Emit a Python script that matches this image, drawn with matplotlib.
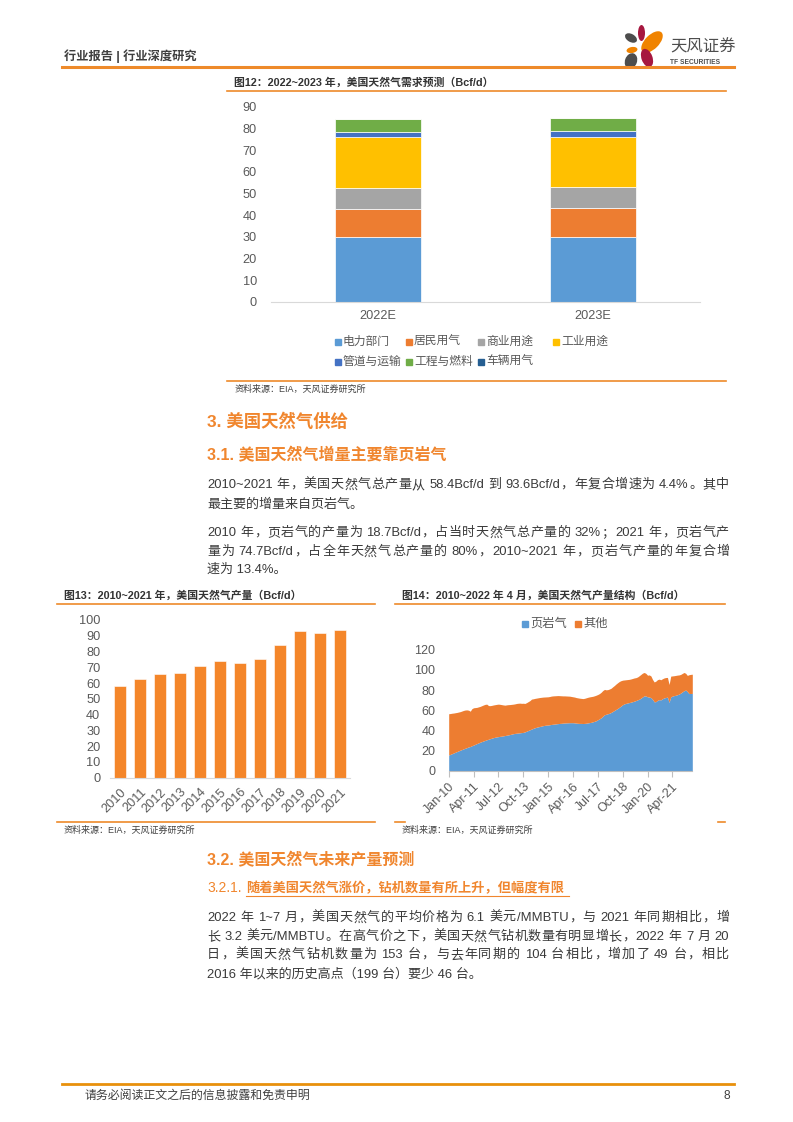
import numpy as np
import matplotlib
matplotlib.use('Agg')
import matplotlib.pyplot as plt
from matplotlib.lines import Line2D
from matplotlib.patches import Rectangle, Ellipse

plt.rcParams['font.family'] = ['Liberation Sans', 'Noto Sans CJK SC', 'DejaVu Sans']

# ---- 图12 数据：美国天然气需求预测 (Bcf/d)
demand_cats = ['2022E', '2023E']
demand_names = ['电力部门', '居民用气', '商业用途', '工业用途', '管道与运输', '工程与燃料', '车辆用气']
power = [29.7, 30.0]
residential = [13.2, 13.4]
commercial = [9.7, 9.4]
industrial = [23.2, 23.4]
pipeline = [2.7, 2.7]
lease_fuel = [5.7, 5.7]
vehicle = [0.1, 0.1]
demand_colors = ['#5B9BD5', '#ED7D31', '#A5A5A5', '#FFC000', '#4472C4', '#70AD47', '#255E91']

# ---- 图13 数据：美国天然气产量 (Bcf/d)
prod_years = ['2010', '2011', '2012', '2013', '2014', '2015',
              '2016', '2017', '2018', '2019', '2020', '2021']
prod_values = [58.4, 62.6, 65.5, 66.2, 70.8, 74.2, 72.7, 75.1, 84.4, 93.0, 91.8, 93.6]

# ---- 图14 数据：2010.01~2022.04 月度产量结构 (Bcf/d)
shale = [
    15.5, 16.2, 16.9, 17.6, 18.3, 19.0, 19.7, 20.4, 21.0, 21.7, 22.3, 22.9,   # 2010
    23.6, 24.0, 24.8, 25.4, 26.2, 26.9, 27.6, 28.3, 28.9, 29.5, 30.1, 30.7,   # 2011
    31.2, 31.8, 32.3, 32.8, 33.2, 33.5, 33.8, 34.1, 34.3, 34.6, 34.9, 35.2,   # 2012
    35.5, 35.9, 36.3, 36.7, 37.0, 37.2, 37.4, 37.6, 37.8, 38.0, 38.5, 39.2,   # 2013
    39.9, 40.6, 41.3, 42.0, 42.6, 43.1, 43.5, 43.9, 44.3, 44.7, 45.0, 45.2,   # 2014
    45.3, 45.6, 45.9, 46.1, 46.3, 46.5, 46.7, 46.9, 47.0, 47.2, 47.3, 47.4,   # 2015
    47.5, 47.6, 47.6, 47.6, 47.4, 47.2, 47.0, 46.9, 46.9, 46.8, 46.9, 47.1,   # 2016
    47.4, 47.7, 48.0, 48.5, 49.0, 49.6, 50.6, 51.5, 52.5, 54.0, 55.5, 56.0,   # 2017
    56.5, 57.0, 57.8, 58.8, 59.8, 60.8, 61.8, 63.0, 64.2, 65.5, 66.3, 66.8,   # 2018
    67.2, 67.6, 68.0, 68.5, 69.0, 69.6, 70.3, 71.0, 72.0, 73.2, 74.3, 74.0,   # 2019
    73.3, 73.0, 72.5, 70.8, 68.3, 68.5, 69.8, 70.5, 70.2, 71.4, 72.2, 72.6,   # 2020
    73.0, 67.7, 73.3, 74.0, 74.5, 74.8, 75.4, 76.0, 77.0, 78.2, 79.3, 80.0,   # 2021
    78.5, 76.5, 76.6, 76.6,                                                   # 2022
]
total = [
    56.5, 56.7, 57.0, 57.2, 57.5, 57.8, 58.2, 58.6, 59.2, 59.8, 60.2, 60.3,   # 2010
    60.0, 59.0, 61.5, 62.4, 62.6, 62.8, 63.3, 63.8, 64.5, 65.2, 65.8, 66.0,   # 2011
    64.6, 64.5, 64.8, 65.2, 65.5, 65.8, 66.0, 65.8, 65.5, 65.2, 65.0, 65.3,   # 2012
    65.5, 65.6, 65.8, 66.0, 66.3, 66.7, 66.9, 67.0, 66.8, 66.9, 66.7, 67.5,   # 2013
    68.5, 69.5, 71.0, 71.3, 71.7, 72.0, 72.3, 72.6, 72.8, 73.0, 73.1, 73.2,   # 2014
    73.3, 73.6, 74.0, 74.2, 74.3, 74.4, 74.5, 74.4, 74.3, 74.2, 74.2, 74.1,   # 2015
    74.0, 73.9, 73.6, 73.3, 73.0, 72.5, 72.2, 71.9, 71.7, 71.5, 71.8, 72.3,   # 2016
    72.8, 73.2, 73.5, 73.8, 74.3, 74.9, 75.6, 76.5, 77.8, 79.5, 80.6, 80.2,   # 2017
    80.4, 81.0, 81.8, 83.2, 84.5, 86.0, 87.3, 88.5, 89.3, 89.8, 90.0, 90.2,   # 2018
    90.4, 90.6, 91.0, 91.5, 92.0, 92.3, 93.0, 94.2, 95.5, 96.8, 97.4, 96.5,   # 2019
    94.7, 95.0, 94.0, 90.5, 88.0, 88.8, 90.3, 90.8, 90.2, 91.2, 92.0, 92.4,   # 2020
    92.5, 85.5, 93.8, 94.0, 94.2, 94.5, 94.8, 95.0, 95.5, 96.5, 97.4, 96.6,   # 2021
    94.5, 95.2, 95.5, 95.7,                                                   # 2022
]
month_labels = ['Jan-10', 'Apr-11', 'Jul-12', 'Oct-13', 'Jan-15',
                'Apr-16', 'Jul-17', 'Oct-18', 'Jan-20', 'Apr-21']
mix_names = ['页岩气', '其他']
mix_colors = ['#5B9BD5', '#ED7D31']

# ---- 页面
W, H = 793, 1122
fig = plt.figure(figsize=(W / 100, H / 100), dpi=100)
renderer = fig.canvas.get_renderer()
ORANGE = '#F0862E'
LINE = '#EE8A2A'
DARK = '#3A3A3A'
GREY = '#595959'


def txt(x, y, s, **kw):
    kw.setdefault('va', 'center')
    return fig.text(x / W, 1 - y / H, s, **kw)


def hline(x0, x1, y, color=LINE, lw=1.2):
    fig.add_artist(Line2D([x0 / W, x1 / W], [1 - y / H, 1 - y / H], color=color, lw=lw))


def square(x, y, color, size=6):
    fig.add_artist(Rectangle((x / W, 1 - (y + size / 2) / H), size / W, size / H,
                             color=color, transform=fig.transFigure))


def add_ax(x0, y0, x1, y1):
    return fig.add_axes([x0 / W, 1 - y1 / H, (x1 - x0) / W, (y1 - y0) / H])


def justify(x0, x1, y, s, **kw):
    # 两端对齐：汉字逐字、西文成段，空白处加宽
    toks = []
    run, space = '', False
    for ch in s:
        if ch == ' ':
            if run:
                toks.append((run, space))
                run = ''
                space = False
            space = True
        elif ord(ch) < 128:
            run += ch
        else:
            if run:
                toks.append((run, space))
                run = ''
                space = False
            toks.append((ch, space))
            space = False
    if run:
        toks.append((run, space))
    arts = [txt(0, y, t, **kw) for t, _ in toks]
    widths = [a.get_window_extent(renderer).width for a in arts]
    sp = kw.get('fontsize', 10) * 100 / 72 * 0.28
    nsp = sum(1 for _, b in toks if b)
    gap = (x1 - x0 - sum(widths) - nsp * sp) / (len(toks) - 1)
    cx = x0
    for a, w, (_, b) in zip(arts, widths, toks):
        if b:
            cx += sp
        a.set_position((cx / W, 1 - y / H))
        cx += w + gap


# 页眉
txt(64, 56, '行业报告 | 行业深度研究', fontsize=8.8, fontweight='bold', color='#3F3F3F')
hline(62, 734, 67, lw=2.2)
logo = add_ax(620, 20, 670, 72)
logo.set_xlim(620, 670)
logo.set_ylim(72, 20)
logo.axis('off')
for (cx, cy, w, h, ang, col) in [(641.5, 33, 7, 16, 0, '#A6173F'),
                                  (631, 38, 13, 8, 30, '#4D4D4D'),
                                  (652, 42, 27, 14, -45, '#F08300'),
                                  (632, 50, 11, 6, -10, '#F08300'),
                                  (647, 58, 11, 19, -20, '#A6173F'),
                                  (631, 61, 12, 16, 20, '#4D4D4D')]:
    logo.add_patch(Ellipse((cx, cy), w, h, angle=ang, color=col, lw=0))
txt(670, 47, '天风证券', fontsize=11.8, color='#4D4D4D')
txt(670, 62, 'TF SECURITIES', fontsize=4.8, fontweight='bold', color='#4D4D4D')

# 图12
txt(234, 83, '图12：2022~2023 年，美国天然气需求预测（Bcf/d）', fontsize=7.8, fontweight='bold', color='#333333')
hline(227, 726, 91)
ax1 = add_ax(270.7, 106.7, 700, 301.7)
xpos = np.arange(len(demand_cats))
bottom = np.zeros(len(demand_cats))
for vals, col in zip([power, residential, commercial, industrial, pipeline, lease_fuel, vehicle],
                     demand_colors):
    ax1.bar(xpos, vals, 0.4, bottom=bottom, color=col, edgecolor='white', lw=0.5)
    bottom += np.array(vals)
ax1.set_xlim(-0.5, 1.5)
ax1.set_ylim(0, 90)
ax1.set_yticks(range(0, 91, 10))
ax1.set_xticks(xpos)
ax1.set_xticklabels(demand_cats)
for s in ['top', 'right', 'left']:
    ax1.spines[s].set_visible(False)
ax1.spines['bottom'].set_color('#D9D9D9')
ax1.tick_params(length=0, labelsize=9.2, labelcolor=GREY)
ax1.tick_params(axis='y', pad=10)
ax1.tick_params(axis='x', pad=6)
leg_pos = [(335, 342), (406, 342), (478, 342), (553, 342), (335, 362), (406, 362), (478, 362)]
for (lx, ly), name, col in zip(leg_pos, demand_names, demand_colors):
    square(lx, ly, col)
    txt(lx + 8, ly, name, fontsize=8.5, color=GREY)
hline(227, 726, 381)
txt(235, 389, '资料来源：EIA，天风证券研究所', fontsize=6.5, color='#404040')

# 正文 3 / 3.1
txt(207, 421.5, '3. 美国天然气供给', fontsize=12.5, fontweight='bold', color=ORANGE)
txt(207, 455, '3.1. 美国天然气增量主要靠页岩气', fontsize=11.5, fontweight='bold', color=ORANGE)
body = dict(fontsize=9.4, color=DARK)
justify(207, 729, 485, '2010~2021 年，美国天然气总产量从 58.4Bcf/d 到 93.6Bcf/d，年复合增速为 4.4%。其中', **body)
txt(207, 505, '最主要的增量来自页岩气。', **body)
justify(207, 729, 533, '2010 年，页岩气的产量为 18.7Bcf/d，占当时天然气总产量的 32%；2021 年，页岩气产', **body)
justify(207, 729, 552, '量为 74.7Bcf/d，占全年天然气总产量的 80%，2010~2021 年，页岩气产量的年复合增', **body)
txt(207, 570, '速为 13.4%。', **body)

# 图13
txt(64, 596, '图13：2010~2021 年，美国天然气产量（Bcf/d）', fontsize=7.8, fontweight='bold', color='#333333')
hline(57, 375, 604)
ax2 = add_ax(110, 620, 350, 777.7)
ax2.bar(np.arange(len(prod_years)), prod_values, 0.6, color='#F4862A', edgecolor='white', lw=0.4)
ax2.set_xlim(-0.5, len(prod_years) - 0.5)
ax2.set_ylim(0, 100)
ax2.set_yticks(range(0, 101, 10))
ax2.set_xticks(np.arange(len(prod_years)))
ax2.set_xticklabels(prod_years, rotation=45, ha='right', va='top', rotation_mode='anchor')
for s in ['top', 'right', 'left']:
    ax2.spines[s].set_visible(False)
ax2.spines['bottom'].set_color('#D9D9D9')
ax2.tick_params(length=0, labelsize=9.2, labelcolor=GREY)
ax2.tick_params(axis='y', pad=7)
ax2.tick_params(axis='x', pad=6)
hline(57, 375, 822)
txt(64, 830, '资料来源：EIA，天风证券研究所', fontsize=6.5, color='#404040')

# 图14
txt(402, 596, '图14：2010~2022 年 4 月，美国天然气产量结构（Bcf/d）', fontsize=7.8, fontweight='bold', color='#333333')
hline(395, 725, 604)
ax3 = add_ax(448.7, 649.7, 692.3, 770.7)
xm = np.arange(len(shale))
ax3.fill_between(xm, 0, shale, color=mix_colors[0], lw=0)
ax3.fill_between(xm, shale, total, color=mix_colors[1], lw=0)
ax3.set_xlim(0, len(shale) - 1)
ax3.set_ylim(0, 120)
ax3.set_yticks(range(0, 121, 20))
ax3.set_xticks(np.arange(0, len(shale), 15))
ax3.set_xticklabels(month_labels, rotation=45, ha='right', va='top', rotation_mode='anchor')
for s in ['top', 'right', 'left']:
    ax3.spines[s].set_visible(False)
ax3.spines['bottom'].set_color('#BFBFBF')
ax3.tick_params(labelsize=9, labelcolor=GREY)
ax3.tick_params(axis='y', length=0, pad=9.5)
ax3.tick_params(axis='x', length=4, color='#BFBFBF', pad=3)
for (lx, name, col) in zip([522, 575], mix_names, mix_colors):
    square(lx, 623.5, col)
    txt(lx + 8, 623.5, name, fontsize=8.8, color=GREY)
hline(395, 405, 822)
hline(718, 725, 822)
txt(402, 830, '资料来源：EIA，天风证券研究所', fontsize=6.5, color='#404040')

# 正文 3.2
txt(207, 860, '3.2. 美国天然气未来产量预测', fontsize=11.5, fontweight='bold', color=ORANGE)
txt(207, 888, '3.2.1.', fontsize=10, color=ORANGE)
txt(246, 888, '随着美国天然气涨价，钻机数量有所上升，但幅度有限', fontsize=9.5, fontweight='bold', color=ORANGE)
hline(246, 569, 896, color=ORANGE, lw=0.8)
justify(207, 729, 918, '2022 年 1~7 月，美国天然气的平均价格为 6.1 美元/MMBTU，与 2021 年同期相比，增', **body)
justify(207, 729, 937, '长 3.2 美元/MMBTU。在高气价之下，美国天然气钻机数量有明显增长，2022 年 7 月 20', **body)
justify(207, 729, 955, '日，美国天然气钻机数量为 153 台，与去年同期的 104 台相比，增加了 49 台，相比', **body)
txt(207, 974, '2016 年以来的历史高点（199 台）要少 46 台。', **body)

# 页脚
hline(62, 734, 1084, color='#E8900C', lw=2)
txt(85, 1096, '请务必阅读正文之后的信息披露和免责申明', fontsize=8.6, color='#404040')
txt(724, 1096, '8', fontsize=8.6, color='#404040')

fig.savefig('out.png', dpi=100)
